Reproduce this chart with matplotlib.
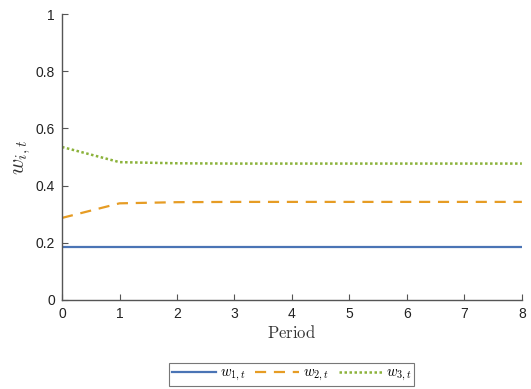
import matplotlib
matplotlib.use("Agg")
import matplotlib.pyplot as plt

periods = [0, 1, 2, 3, 4, 5, 6, 7, 8]
w1 = [0.186, 0.186, 0.186, 0.186, 0.186, 0.186, 0.186, 0.186, 0.186]
w2 = [0.287, 0.338, 0.342, 0.343, 0.343, 0.343, 0.343, 0.343, 0.343]
w3 = [0.535, 0.482, 0.478, 0.477, 0.477, 0.477, 0.477, 0.477, 0.477]
labels = [r'$w_{1,t}$', r'$w_{2,t}$', r'$w_{3,t}$']
xticks = [0, 1, 2, 3, 4, 5, 6, 7, 8]
yticks = [0, 0.2, 0.4, 0.6, 0.8, 1]
yticklabels = ['0', '0.2', '0.4', '0.6', '0.8', '1']

plt.rcParams['mathtext.fontset'] = 'cm'
plt.rcParams['font.family'] = ['Liberation Sans', 'DejaVu Sans']

fig = plt.figure(figsize=(5.31, 3.89), dpi=100)
ax = fig.add_axes([0.1168, 0.2288, 0.866, 0.7352])

l1, = ax.plot(periods, w1, color='#4a74b5', lw=1.6, linestyle='-')
l2, = ax.plot(periods, w2, color='#e69c24', lw=1.6, linestyle=(0, (5, 3.5)))
l3, = ax.plot(periods, w3, color='#8bb23a', lw=1.8, linestyle=(0, (1, 1)))

ax.set_xlim(0, 8)
ax.set_ylim(0, 1)
ax.set_xticks(xticks)
ax.set_yticks(yticks)
ax.set_yticklabels(yticklabels)
for s in ['top', 'right']:
    ax.spines[s].set_visible(False)
for s in ['left', 'bottom']:
    ax.spines[s].set_color('#555555')
    ax.spines[s].set_linewidth(1.0)
ax.tick_params(direction='in', length=4, color='#555555', labelsize=10, labelcolor='#222222', pad=5)

ax.set_xlabel(r'$\mathrm{Period}$', fontsize=12, color='#333333', labelpad=2)
ax.set_ylabel(r'$w_{i,t}$', fontsize=16, color='#333333', labelpad=2)

leg = ax.legend([l1, l2, l3], labels, loc='upper center', bbox_to_anchor=(0.5, -0.22),
                ncol=3, frameon=True, fancybox=False, edgecolor='#555555',
                fontsize=10.5, handlelength=3.0, handletextpad=0.25, columnspacing=0.7,
                borderpad=0.2, borderaxespad=0)
leg.get_frame().set_linewidth(0.8)

fig.savefig('out.png', dpi=100)
